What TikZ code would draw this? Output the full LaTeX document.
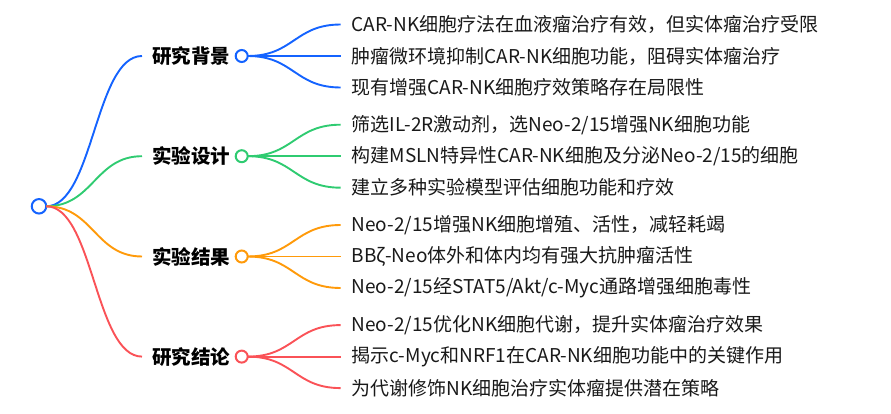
\documentclass[tikz,border=0pt]{standalone}
\usepackage{fontspec}
\setmainfont{Noto Sans CJK SC}
\usetikzlibrary{positioning}
\definecolor{mmblue}{HTML}{1463FF}
\definecolor{mmgreen}{HTML}{2FCB71}
\definecolor{mmorange}{HTML}{FF9A0A}
\definecolor{mmred}{HTML}{FA5257}

\begin{document}
\begin{tikzpicture}[x=1pt,y=-1pt]
    \tikzstyle{hub} = [circle, draw, line width=2pt, fill=white, minimum size=12pt,
        inner sep=0pt, outer sep=0pt]
    \tikzstyle{catname} = [font=\fontsize{19.5}{20}\selectfont\bfseries, inner sep=0pt,
        outer sep=0pt, text=black]
    \tikzstyle{leaftext} = [font=\fontsize{19}{20}\selectfont, anchor=west, inner xsep=11pt,
        inner ysep=0pt, outer sep=0pt, text=black!90]
    \tikzstyle{link} = [line width=1.9pt]

    \useasboundingbox (0,0) rectangle (891,414);

    % Root
    \node[hub, draw=mmblue, minimum size=14.5pt] (root) at (39,206.3) {};

    % Research background
    \node[hub, draw=mmblue] (bgdot) at (241.7,56) {};
    \node[catname, left=5.7pt of bgdot] (bgname) {研究背景};
    \node[leaftext, right=93pt of bgdot, yshift=31.5pt] (bg1) {CAR-NK细胞疗法在血液瘤治疗有效，但实体瘤治疗受限};
    \node[leaftext, right=93pt of bgdot] (bg2) {肿瘤微环境抑制CAR-NK细胞功能，阻碍实体瘤治疗};
    \node[leaftext, right=93pt of bgdot, yshift=-31.5pt] (bg3) {现有增强CAR-NK细胞疗效策略存在局限性};
    % Experimental design
    \node[hub, draw=mmgreen] (dsdot) at (241.7,156.2) {};
    \node[catname, left=5.7pt of dsdot] (dsname) {实验设计};
    \node[leaftext, right=93pt of dsdot, yshift=31.5pt] (ds1) {筛选IL-2R激动剂，选Neo-2/15增强NK细胞功能};
    \node[leaftext, right=93pt of dsdot] (ds2) {构建MSLN特异性CAR-NK细胞及分泌Neo-2/15的细胞};
    \node[leaftext, right=93pt of dsdot, yshift=-31.5pt] (ds3) {建立多种实验模型评估细胞功能和疗效};
    % Experimental results
    \node[hub, draw=mmorange] (rsdot) at (241.7,256.5) {};
    \node[catname, left=5.7pt of rsdot] (rsname) {实验结果};
    \node[leaftext, right=93pt of rsdot, yshift=31.5pt] (rs1) {Neo-2/15增强NK细胞增殖、活性，减轻耗竭};
    \node[leaftext, right=93pt of rsdot] (rs2) {BBζ-Neo体外和体内均有强大抗肿瘤活性};
    \node[leaftext, right=93pt of rsdot, yshift=-31.5pt] (rs3) {Neo-2/15经STAT5/Akt/c-Myc通路增强细胞毒性};
    % Conclusions
    \node[hub, draw=mmred] (cldot) at (241.7,356.6) {};
    \node[catname, left=5.7pt of cldot] (clname) {研究结论};
    \node[leaftext, right=93pt of cldot, yshift=31.5pt] (cl1) {Neo-2/15优化NK细胞代谢，提升实体瘤治疗效果};
    \node[leaftext, right=93pt of cldot] (cl2) {揭示c-Myc和NRF1在CAR-NK细胞功能中的关键作用};
    \node[leaftext, right=93pt of cldot, yshift=-31.5pt] (cl3) {为代谢修饰NK细胞治疗实体瘤提供潜在策略};

    % Branches from the root
    \draw[link, mmblue] (root.east) .. controls +(47,0) and +(-47,0) .. ([xshift=-10pt]bgname.west);
    \draw[link, mmgreen] (root.east) .. controls +(47,0) and +(-47,0) .. ([xshift=-10pt]dsname.west);
    \draw[link, mmorange] (root.east) .. controls +(47,0) and +(-47,0) .. ([xshift=-10pt]rsname.west);
    \draw[link, mmred] (root.east) .. controls +(47,0) and +(-47,0) .. ([xshift=-10pt]clname.west);

    % Leaves
    \draw[link, mmblue] (bgdot.east) .. controls +(46,0) and +(-46,0) .. (bg1.west);
    \draw[link, mmblue] (bgdot.east) -- (bg2.west);
    \draw[link, mmblue] (bgdot.east) .. controls +(46,0) and +(-46,0) .. (bg3.west);
    \draw[link, mmgreen] (dsdot.east) .. controls +(46,0) and +(-46,0) .. (ds1.west);
    \draw[link, mmgreen] (dsdot.east) -- (ds2.west);
    \draw[link, mmgreen] (dsdot.east) .. controls +(46,0) and +(-46,0) .. (ds3.west);
    \draw[link, mmorange] (rsdot.east) .. controls +(46,0) and +(-46,0) .. (rs1.west);
    \draw[link, mmorange] (rsdot.east) -- (rs2.west);
    \draw[link, mmorange] (rsdot.east) .. controls +(46,0) and +(-46,0) .. (rs3.west);
    \draw[link, mmred] (cldot.east) .. controls +(46,0) and +(-46,0) .. (cl1.west);
    \draw[link, mmred] (cldot.east) -- (cl2.west);
    \draw[link, mmred] (cldot.east) .. controls +(46,0) and +(-46,0) .. (cl3.west);
\end{tikzpicture}
\end{document}
